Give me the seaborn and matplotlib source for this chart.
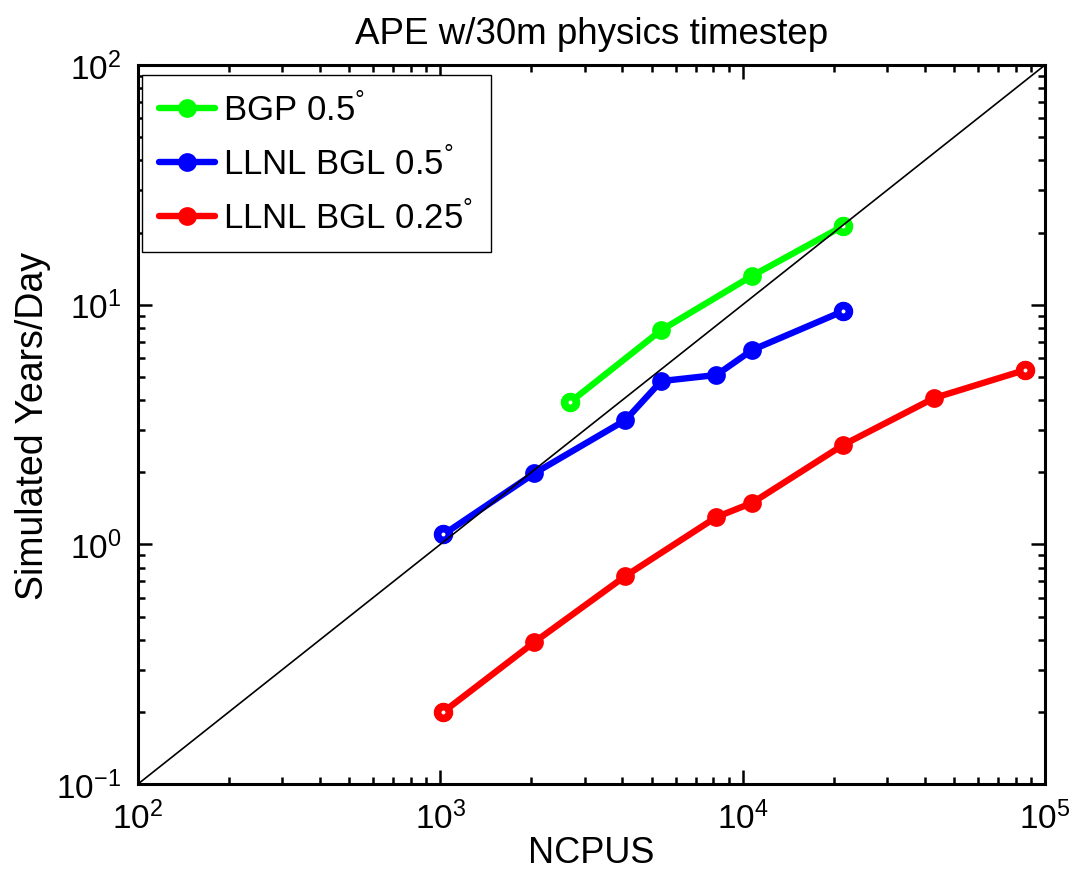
import matplotlib
matplotlib.use("Agg")
import numpy as np
import pandas as pd
import seaborn as sns
import matplotlib.pyplot as plt
from matplotlib.ticker import FixedLocator, FixedFormatter, LogLocator, NullFormatter
from matplotlib.lines import Line2D

# ---------------- data ----------------
series_names = ["BGP 0.5$^{°}$", "LLNL BGL 0.5$^{°}$", "LLNL BGL 0.25$^{°}$"]
series_colors = ["#00ff00", "#0000ff", "#ff0000"]

bgp_ncpus = [2688, 5376, 10752, 21504]
bgp_ypd = [3.92, 7.83, 13.2, 21.3]

bgl05_ncpus = [1024, 2048, 4096, 5376, 8192, 10752, 21504]
bgl05_ypd = [1.10, 1.98, 3.30, 4.80, 5.09, 6.47, 9.40]

bgl025_ncpus = [1024, 2048, 4096, 8192, 10752, 21504, 43008, 86016]
bgl025_ypd = [0.20, 0.391, 0.738, 1.30, 1.49, 2.60, 4.08, 5.34]

ideal_ncpus = [1e2, 1e5]
ideal_ypd = [1e-1, 1e2]

x_ticks = [1e2, 1e3, 1e4, 1e5]
x_ticklabels = ["10$^{2}$", "10$^{3}$", "10$^{4}$", "10$^{5}$"]
y_ticks = [1e-1, 1e0, 1e1, 1e2]
y_ticklabels = ["10$^{-1}$", "10$^{0}$", "10$^{1}$", "10$^{2}$"]

title = "APE w/30m physics timestep"
xlabel = "NCPUS"
ylabel = "Simulated Years/Day"

# ---------------- style ----------------
sns.set_theme(style="white")
plt.rcParams["font.family"] = ["Liberation Sans", "DejaVu Sans"]
plt.rcParams["mathtext.default"] = "regular"
plt.rcParams["text.color"] = "black"
plt.rcParams["axes.labelcolor"] = "black"
plt.rcParams["xtick.color"] = "black"
plt.rcParams["ytick.color"] = "black"

frames = []
for name, xs, ys in [(series_names[0], bgp_ncpus, bgp_ypd),
                     (series_names[1], bgl05_ncpus, bgl05_ypd),
                     (series_names[2], bgl025_ncpus, bgl025_ypd)]:
    frames.append(pd.DataFrame({"NCPUS": xs, "YPD": ys, "series": name}))
df = pd.concat(frames, ignore_index=True)
palette = dict(zip(series_names, series_colors))

fig = plt.figure(figsize=(10.73, 8.78), dpi=100)
ax = fig.add_axes([0.1286, 0.1059, 0.9739 - 0.1286, 0.9248 - 0.1059])
ax.set_xscale("log")
ax.set_yscale("log")

LW = 4.6
MS = 8.5
MEW = 5

for name in series_names:
    sub = df[df["series"] == name]
    c = palette[name]
    sns.lineplot(data=sub, x="NCPUS", y="YPD", color=c, marker="o", markersize=MS,
                 markeredgewidth=MEW, markeredgecolor=c, markerfacecolor=c,
                 linewidth=LW, ax=ax, legend=False, sort=True, estimator=None)
    ends = sub.iloc[[0, -1]]
    sns.scatterplot(data=ends, x="NCPUS", y="YPD", s=MS ** 2, facecolor="white",
                    edgecolor=c, linewidth=MEW + 0.5, ax=ax, legend=False, zorder=3)

# ideal scaling line
sns.lineplot(x=ideal_ncpus, y=ideal_ypd, color="black", linewidth=1.2, ax=ax, zorder=4)

ax.set_xlim(1e2, 1e5)
ax.set_ylim(1e-1, 1e2)
ax.xaxis.set_major_locator(FixedLocator(x_ticks))
ax.xaxis.set_major_formatter(FixedFormatter(x_ticklabels))
ax.yaxis.set_major_locator(FixedLocator(y_ticks))
ax.yaxis.set_major_formatter(FixedFormatter(y_ticklabels))
ax.xaxis.set_minor_locator(LogLocator(base=10, subs=np.arange(2, 10)))
ax.yaxis.set_minor_locator(LogLocator(base=10, subs=np.arange(2, 10)))
ax.xaxis.set_minor_formatter(NullFormatter())
ax.yaxis.set_minor_formatter(NullFormatter())

ax.tick_params(which="both", direction="in", top=True, right=True, bottom=True, left=True,
               color="black", width=1.8)
ax.tick_params(which="major", length=10, labelsize=24, pad=12)
ax.tick_params(which="minor", length=5)
for sp in ax.spines.values():
    sp.set_visible(True)
    sp.set_color("black")
    sp.set_linewidth(2.2)

ax.set_title(title, fontsize=26.5, pad=16)
ax.set_xlabel(xlabel, fontsize=26, labelpad=0)
ax.set_ylabel(ylabel, fontsize=27, labelpad=4)

handles = [Line2D([0], [0], color=c, linewidth=LW, marker="o", markersize=MS,
                  markeredgewidth=MEW, markerfacecolor=c, markeredgecolor=c)
           for c in series_colors]
leg = ax.legend(handles, series_names, loc="upper left", fontsize=25, frameon=True,
                fancybox=False, edgecolor="black", framealpha=1, handlelength=1.6,
                handletextpad=0.25, labelspacing=0.55, borderpad=0.5,
                bbox_to_anchor=(0.004, 0.986), borderaxespad=0)
leg.get_frame().set_linewidth(1.0)

fig.savefig("out.png", dpi=100)
